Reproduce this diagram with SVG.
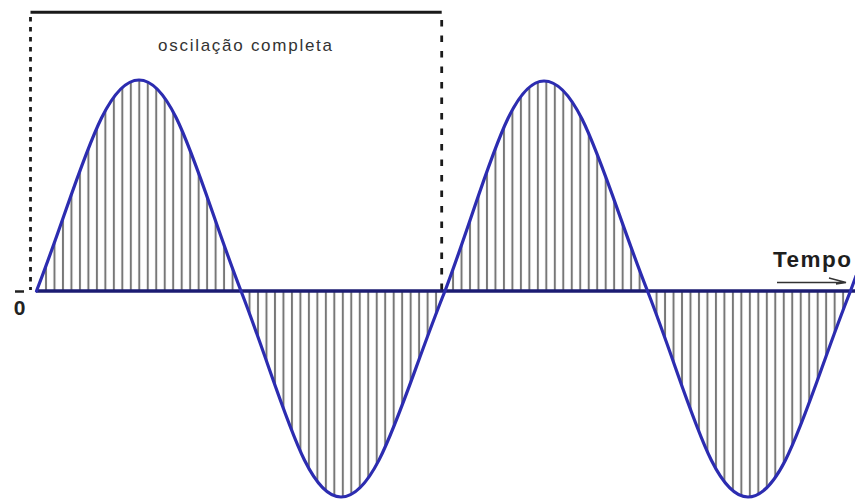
<svg xmlns="http://www.w3.org/2000/svg" width="855" height="499" viewBox="0 0 855 499">
  <style>
    .lbl { font-family: "Liberation Sans", Arial, sans-serif; }
    .wave { fill: none; stroke: #2c2cb0; stroke-width: 3.2; stroke-linejoin: round; stroke-linecap: round; }
    .axis { stroke: #1c1c72; stroke-width: 3.5; }
    .dash { stroke: #1a1a1a; stroke-width: 2.8; fill: none; }
  </style>
  <defs>
    <pattern id="hatch" patternUnits="userSpaceOnUse" x="3.6" y="0" width="8.48" height="10">
      <rect x="-1" y="0" width="2" height="10" fill="#777777"/>
      <rect x="7.48" y="0" width="2" height="10" fill="#777777"/>
    </pattern>
  </defs>
  <rect width="855" height="499" fill="#ffffff"/>

  <g id="hatching">
    <path fill="url(#hatch)" d="M36.5 291 C78.5 183 101.9 80 139 80 C175.9 80 199.2 183 241 291 C282 396.5 304.8 497 341 497 C378.6 497 402.4 396.5 445 291 C485.6 183.5 508.2 81 544 81 C581.5 81 605.1 183.5 647.5 291 C688.7 396.5 711.6 497 748 497 C785.1 497 808.5 396.5 850.5 291 Z"/>
  </g>

  <g id="frame">
    <line x1="30.5" y1="12.3" x2="441.7" y2="12.3" stroke="#1a1a1a" stroke-width="3"/>
    <line class="dash" x1="30.5" y1="17" x2="30.5" y2="290" stroke-dasharray="4.5 5.5"/>
    <line class="dash" x1="441.7" y1="20" x2="441.7" y2="290" stroke-dasharray="6.5 9"/>
    <text class="lbl" x="158" y="51" font-size="17" fill="#333333" textLength="174" lengthAdjust="spacing">oscilação completa</text>
  </g>

  <g id="axis">
    <line class="axis" x1="36" y1="291" x2="855" y2="291"/>
    <line x1="15" y1="291.5" x2="24" y2="291.5" stroke="#222222" stroke-width="2.5"/>
    <text class="lbl" x="19.5" y="315" font-size="21" font-weight="bold" fill="#222222" text-anchor="middle">0</text>
  </g>

  <g id="tempo">
    <text class="lbl" x="773" y="267" font-size="22.5" font-weight="bold" fill="#1e1e1e" textLength="78" lengthAdjust="spacing">Tempo</text>
    <path d="M777 282.5 H846 M829 278 L846 282.5 L836 284" fill="none" stroke="#333333" stroke-width="1.3"/>
  </g>

  <g id="connectors">
    <path class="wave" d="M36.5 291 C78.5 183 101.9 80 139 80 C175.9 80 199.2 183 241 291 C282 396.5 304.8 497 341 497 C378.6 497 402.4 396.5 445 291 C485.6 183.5 508.2 81 544 81 C581.5 81 605.1 183.5 647.5 291 C688.7 396.5 711.6 497 748 497 C785.1 497 808.5 396.5 850.5 291 L856 276"/>
  </g>
</svg>
